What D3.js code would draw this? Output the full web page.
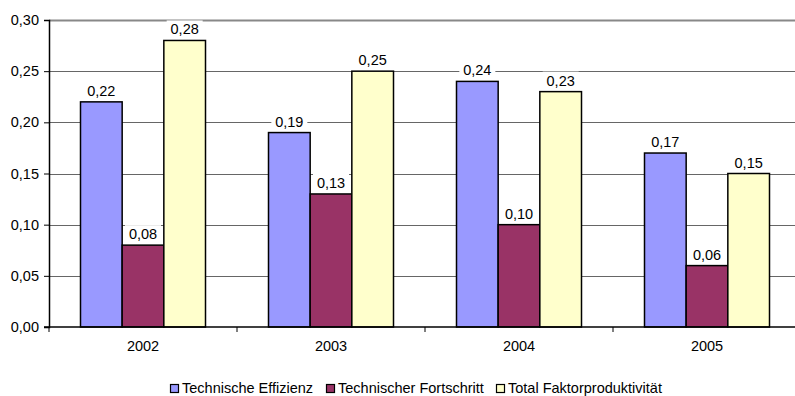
<!DOCTYPE html>
<html><head><meta charset="utf-8">
<script src="https://cdn.jsdelivr.net/npm/d3@7"></script>
<style>body{margin:0;background:#fff}svg{display:block;font-family:"Liberation Sans",Arial,sans-serif}</style>
</head><body><svg id="c" width="795" height="396"></svg>
<script>
const years = ["2002","2003","2004","2005"];
const seriesNames = ["Technische Effizienz","Technischer Fortschritt","Total Faktorproduktivität"];
const effizienz = [0.22,0.19,0.24,0.17];
const fortschritt = [0.08,0.13,0.10,0.06];
const tfp = [0.28,0.25,0.23,0.15];
const colors = ["#9999FF","#993366","#FFFFCC"];
const yTicks = [0,0.05,0.10,0.15,0.20,0.25,0.30];
const seriesValues = [effizienz, fortschritt, tfp];

(function(){
const svg = d3.select("#c");
const mLeft = 49, mRight = 801, mTop = 20, mBottom = 327;
const FS = 14.5;
const fmt = v => d3.format(".2f")(v).replace(".", ",");

const x = d3.scaleBand().domain(years).range([mLeft, mRight]).padding(0);
const y = d3.scaleLinear().domain([0, 0.30]).range([mBottom, mTop]);
const inner = d3.scaleBand().domain(d3.range(3)).range([0, 125]).padding(0);
const groupOff = (x.bandwidth() - 125) / 2;

// gridlines
svg.append("g").selectAll("line").data(yTicks.filter(t => t > 0)).join("line")
  .attr("x1", mLeft).attr("x2", 795)
  .attr("y1", d => Math.round(y(d)) + 0.5).attr("y2", d => Math.round(y(d)) + 0.5)
  .attr("stroke", d => d === 0.30 ? "#888" : "#666")
  .attr("stroke-width", d => d === 0.30 ? 2 : 1);

// bars
const g = svg.append("g");
years.forEach((yr, i) => {
  seriesValues.forEach((vals, s) => {
    const bx = x(yr) + groupOff + inner(s);
    g.append("rect")
      .attr("x", bx).attr("y", y(vals[i]))
      .attr("width", inner.bandwidth()).attr("height", y(0) - y(vals[i]))
      .attr("fill", colors[s]).attr("stroke", "#000").attr("stroke-width", 1.5);
  });
});

// labels
years.forEach((yr, i) => {
  seriesValues.forEach((vals, s) => {
    const cx = x(yr) + groupOff + inner(s) + inner.bandwidth() / 2;
    const ty = y(vals[i]) - 6;
    g.append("rect").attr("x", cx - 18).attr("y", ty - 14).attr("width", 36).attr("height", 18)
      .attr("fill", "#fff");
    g.append("text").attr("x", cx).attr("y", ty).attr("text-anchor", "middle")
      .attr("font-size", FS).attr("fill", "#000").text(fmt(vals[i]));
  });
});

// y axis
const ya = svg.append("g").attr("transform", `translate(${mLeft},0)`)
  .call(d3.axisLeft(y).tickValues(yTicks).tickFormat(fmt).tickSize(5).tickPadding(5));
ya.select(".domain").attr("stroke", "#000").attr("stroke-width", 1.5);
ya.selectAll(".tick line").attr("stroke", "#000");
ya.selectAll("text").attr("font-size", FS).attr("font-family", "Liberation Sans, Arial, sans-serif").attr("fill", "#000");

// x axis
const xa = svg.append("g").attr("transform", `translate(0,${mBottom})`)
  .call(d3.axisBottom(x).tickSize(0).tickPadding(14));
xa.select(".domain").remove();
svg.append("line").attr("x1", mLeft - 5).attr("x2", 795).attr("y1", mBottom).attr("y2", mBottom)
  .attr("stroke", "#000").attr("stroke-width", 1.5);
svg.append("g").selectAll("line").data(d3.range(years.length + 1)).join("line")
  .attr("x1", d => mLeft + d * x.step()).attr("x2", d => mLeft + d * x.step())
  .attr("y1", mBottom).attr("y2", mBottom + 5).attr("stroke", "#000");
xa.selectAll("text").attr("font-size", FS).attr("font-family", "Liberation Sans, Arial, sans-serif").attr("fill", "#000");

// legend
const legX = [170, 326, 496];
const leg = svg.append("g");
seriesNames.forEach((n, i) => {
  leg.append("rect").attr("x", legX[i] + 0.5).attr("y", 384.5).attr("width", 8).attr("height", 8)
    .attr("fill", colors[i]).attr("stroke", "#000").attr("stroke-width", 1.2);
  leg.append("text").attr("x", legX[i] + 12).attr("y", 392.5).attr("font-size", FS)
    .attr("fill", "#000").text(n);
});
})();
</script></body></html>
